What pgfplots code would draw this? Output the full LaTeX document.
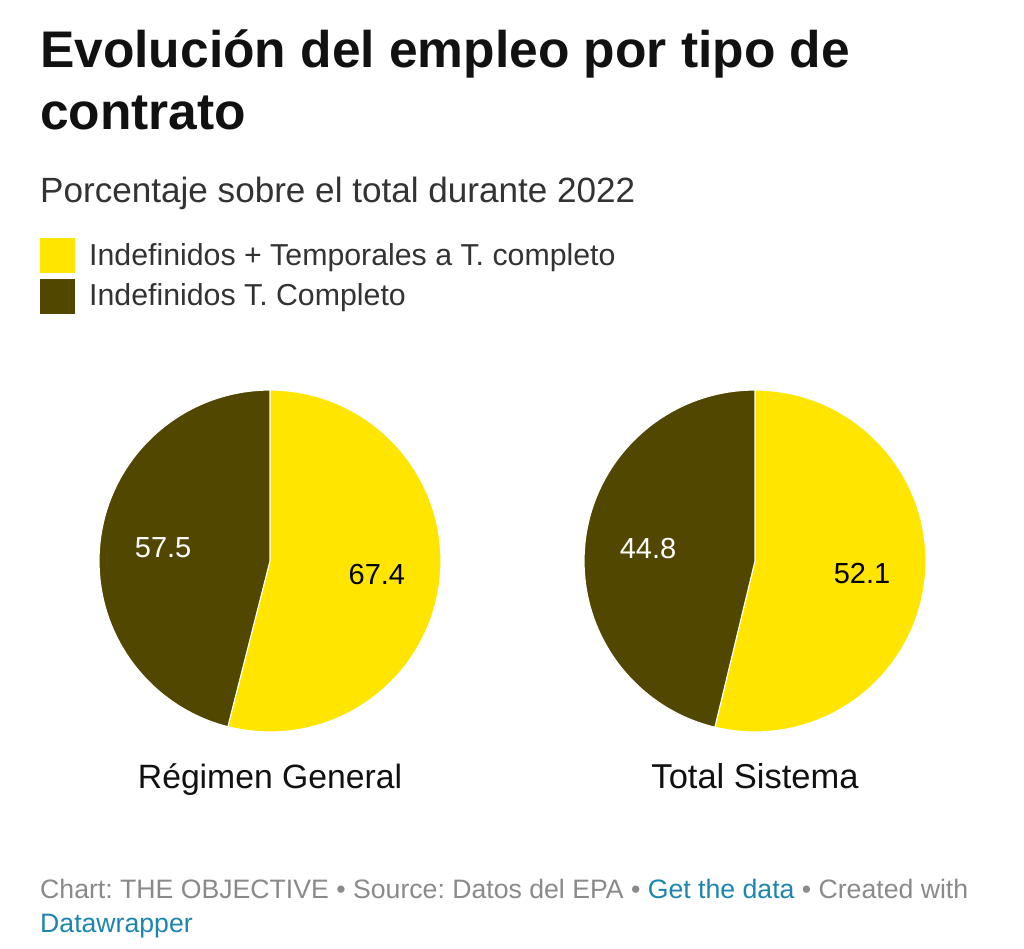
\documentclass[border=0pt]{standalone}
\usepackage{pgfplots}
\pgfplotsset{compat=1.18}
\usepackage{pgfplotstable}
\usepackage{fontspec}
\setmainfont{Liberation Sans}
\frenchspacing
\definecolor{pieyellow}{HTML}{FFE500}
\definecolor{piedark}{HTML}{524700}
\definecolor{linkblue}{HTML}{1D86AE}
\definecolor{footgray}{HTML}{8A8A8A}
\definecolor{subgray}{HTML}{333333}
\definecolor{titleblack}{HTML}{111111}

\pgfplotstableread{
cx yellow dark
270 67.4 57.5
755 52.1 44.8
}\piedata

\newcommand\fs[1]{\fontsize{#1pt}{#1pt}\selectfont}

\begin{document}
\begin{tikzpicture}
\path[fill=white, use as bounding box] (0pt,0pt) rectangle (1024pt,948pt);
% title
\node[anchor=base west, inner sep=0pt, text=titleblack, font=\fs{51.5}\bfseries] at (40pt,880pt) {Evolución del empleo por tipo de};
\node[anchor=base west, inner sep=0pt, text=titleblack, font=\fs{51.5}\bfseries] at (40pt,818pt) {contrato};
\node[anchor=base west, inner sep=0pt, text=subgray, font=\fs{35.1}] at (40pt,745pt) {Porcentaje sobre el total durante 2022};
% legend
\fill[pieyellow] (40pt,675pt) rectangle (75pt,710pt);
\fill[piedark] (40pt,634pt) rectangle (75pt,669pt);
\node[anchor=base west, inner sep=0pt, text=subgray, font=\fs{30.3}] at (89pt,682pt) {Indefinidos + Temporales a T. completo};
\node[anchor=base west, inner sep=0pt, text=subgray, font=\fs{30.3}] at (89pt,642pt) {Indefinidos T. Completo};
% pies
\pgfplotstablegetelem{0}{yellow}\of\piedata \let\yvA\pgfplotsretval
\pgfplotstablegetelem{0}{dark}\of\piedata \let\dvA\pgfplotsretval
\pgfplotstablegetelem{1}{yellow}\of\piedata \let\yvB\pgfplotsretval
\pgfplotstablegetelem{1}{dark}\of\piedata \let\dvB\pgfplotsretval
\pgfmathsetmacro\fA{\yvA/(\yvA+\dvA)}
\pgfmathsetmacro\fB{\yvB/(\yvB+\dvB)}
\pgfmathsetmacro\angYA{90-360*\fA}
\pgfmathsetmacro\midYA{90-180*\fA}
\pgfmathsetmacro\midDA{\angYA-180*(1-\fA)}
\pgfmathsetmacro\angYB{90-360*\fB}
\pgfmathsetmacro\midYB{90-180*\fB}
\pgfmathsetmacro\midDB{\angYB-180*(1-\fB)}
\pgfplotsset{pieaxis/.style={anchor=center, scale only axis,
    width=342pt, height=342pt, xmin=-1, xmax=1, ymin=-1, ymax=1,
    hide axis, clip=false}}
\begin{axis}[pieaxis, at={(270pt,387pt)}]
  \fill[piedark, draw=white, line width=1.2pt] (axis cs:0,0) circle[radius=171pt];
  \fill[pieyellow, draw=white, line width=1.2pt] (axis cs:0,0) -- (axis cs:0,1)
    arc[start angle=90, end angle=\angYA, radius=171pt] -- cycle;
  \node[text=black, font=\fs{29}] at (axis cs:{0.63*cos(\midYA)},{0.63*sin(\midYA)}) {\yvA};
  \node[text=white, font=\fs{29}] at (axis cs:{0.63*cos(\midDA)},{0.63*sin(\midDA)}) {\dvA};
\end{axis}
\begin{axis}[pieaxis, at={(755pt,387pt)}]
  \fill[piedark, draw=white, line width=1.2pt] (axis cs:0,0) circle[radius=171pt];
  \fill[pieyellow, draw=white, line width=1.2pt] (axis cs:0,0) -- (axis cs:0,1)
    arc[start angle=90, end angle=\angYB, radius=171pt] -- cycle;
  \node[text=black, font=\fs{29}] at (axis cs:{0.63*cos(\midYB)},{0.63*sin(\midYB)}) {\yvB};
  \node[text=white, font=\fs{29}] at (axis cs:{0.63*cos(\midDB)},{0.63*sin(\midDB)}) {\dvB};
\end{axis}
\node[anchor=base, inner sep=0pt, text=titleblack, font=\fs{33.7}] at (270pt,160pt) {Régimen General};
\node[anchor=base, inner sep=0pt, text=titleblack, font=\fs{34.5}] at (755pt,160pt) {Total Sistema};
% footer
\node[anchor=base west, inner sep=0pt, font=\fs{26.65}] at (40pt,50pt) {\textcolor{footgray}{Chart: THE OBJECTIVE • Source: Datos del EPA •} \textcolor{linkblue}{Get the data} \textcolor{footgray}{• Created with}};
\node[anchor=base west, inner sep=0pt, font=\fs{26.65}, text=linkblue] at (40pt,16pt) {Datawrapper};
\end{tikzpicture}
\end{document}
